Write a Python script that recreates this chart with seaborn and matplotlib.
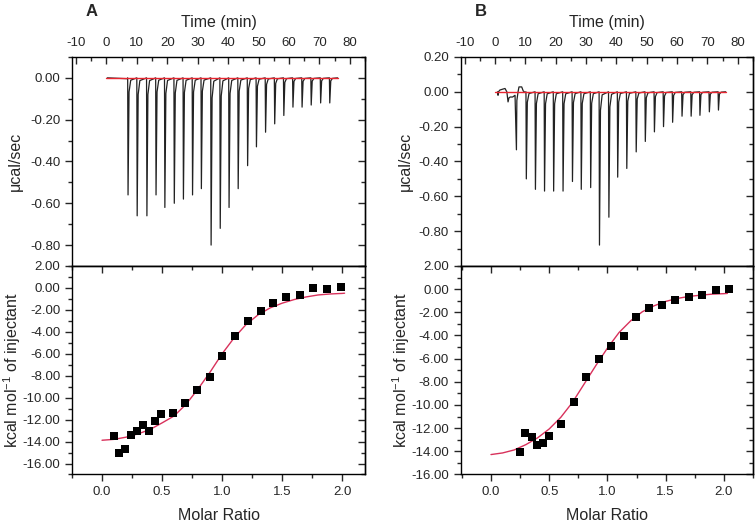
import matplotlib
matplotlib.use("Agg")
import matplotlib.pyplot as plt
from matplotlib.ticker import MultipleLocator, FormatStrFormatter, FixedLocator, NullFormatter
import seaborn as sns

# ============================
# data
# ============================
# raw thermogram: injection times (min) and peak minima (ucal/sec)
INJ_T_A = [7.0, 10.0, 13.2, 16.2, 19.1, 22.2, 25.2, 28.2, 31.1, 34.3, 37.3, 40.2,
           43.2, 46.3, 49.2, 52.2, 55.2, 58.2, 61.2, 64.2, 67.2, 70.3, 73.3]
PEAK_A = [-0.56, -0.66, -0.66, -0.56, -0.62, -0.60, -0.58, -0.56, -0.53, -0.80, -0.72, -0.62,
          -0.53, -0.42, -0.33, -0.26, -0.22, -0.18, -0.14, -0.14, -0.13, -0.12, -0.12]
PRE_T_A = [0.3, 6.9]
PRE_Y_A = [0.0, -0.004]

INJ_T_B = [10.2, 13.2, 16.2, 19.2, 22.3, 25.4, 28.3, 31.4, 34.3, 37.4, 40.3, 43.3,
           46.4, 49.4, 52.4, 55.4, 58.4, 61.5, 64.5, 67.4, 70.5, 73.5]
PEAK_B = [-0.50, -0.56, -0.57, -0.57, -0.57, -0.515, -0.56, -0.55, -0.88, -0.72, -0.49, -0.44,
          -0.345, -0.285, -0.23, -0.20, -0.175, -0.14, -0.14, -0.135, -0.115, -0.105]
# first minutes of run B (small injections and baseline drift)
PRE_T_B = [0.8, 1.0, 1.15, 1.6, 2.5, 3.3, 3.9, 4.3, 4.6, 5.0, 5.8, 6.6, 7.06, 7.2, 7.6, 7.9, 8.8, 9.3, 9.9]
PRE_Y_B = [0.0, -0.02, 0.0, 0.01, 0.015, 0.019, 0.0, -0.058, -0.035, -0.03, -0.03, -0.02,
           -0.333, -0.05, 0.0, 0.028, 0.028, 0.005, -0.004]
T_END = 76.0

# integrated heats
MR_A = [0.10, 0.144, 0.194, 0.244, 0.292, 0.342, 0.392, 0.439, 0.492, 0.589, 0.692, 0.794,
        0.897, 1.0, 1.106, 1.214, 1.322, 1.428, 1.536, 1.647, 1.758, 1.872, 1.99]
DH_A = [-13.48, -15.03, -14.64, -13.36, -13.0, -12.5, -13.06, -12.09, -11.5, -11.4, -10.5, -9.27,
        -8.12, -6.24, -4.42, -3.03, -2.06, -1.39, -0.85, -0.67, -0.03, -0.09, 0.09]
FIT_X_A = [0.0, 0.1, 0.2, 0.3, 0.4, 0.5, 0.6, 0.7, 0.8, 0.9, 1.0, 1.1, 1.2, 1.3, 1.4,
           1.5, 1.6, 1.7, 1.8, 1.9, 2.0, 2.02]
FIT_Y_A = [-13.88, -13.8, -13.6, -13.3, -12.9, -12.3, -11.67, -10.6, -9.2, -7.67, -6.0, -4.55,
           -3.33, -2.45, -1.82, -1.39, -1.06, -0.82, -0.64, -0.55, -0.50, -0.48]

MR_B = [0.247, 0.296, 0.348, 0.397, 0.449, 0.50, 0.604, 0.711, 0.817, 0.924, 1.03, 1.142,
        1.249, 1.361, 1.47, 1.583, 1.698, 1.81, 1.928, 2.043]
DH_B = [-14.08, -12.44, -12.79, -13.45, -13.3, -12.67, -11.67, -9.71, -7.61, -6.03, -4.94, -4.05,
        -2.38, -1.64, -1.35, -0.95, -0.66, -0.49, -0.06, 0.03]
FIT_X_B = [0.0, 0.1, 0.2, 0.3, 0.4, 0.5, 0.6, 0.7, 0.8, 0.9, 1.0, 1.1, 1.2, 1.3, 1.4,
           1.5, 1.6, 1.7, 1.8, 1.9, 2.0, 2.03]
FIT_Y_B = [-14.28, -14.14, -13.88, -13.42, -12.84, -12.07, -11.06, -9.77, -8.19, -6.6, -5.09, -3.74,
           -2.73, -1.95, -1.44, -1.06, -0.80, -0.63, -0.52, -0.43, -0.39, -0.37]

# ============================
# style
# ============================
sns.set_style("ticks")
plt.rcParams['font.family'] = ['Liberation Sans', 'DejaVu Sans']
plt.rcParams['mathtext.fontset'] = 'custom'
plt.rcParams['mathtext.rm'] = 'Liberation Sans'
plt.rcParams['mathtext.it'] = 'Liberation Sans:italic'
plt.rcParams['axes.unicode_minus'] = False
plt.rcParams['axes.linewidth'] = 1.0

TRACE_COLOR = "#222222"
BASE_COLOR = "#e8252f"
FIT_COLOR = "#d8315b"
TICK_FS = 9.5
LABEL_FS = 11.5


def build_trace(pre_t, pre_y, inj_t, peaks):
    ts, ys = list(pre_t), list(pre_y)
    for t, d in zip(inj_t, peaks):
        ts += [t, t + 0.12, t + 0.45, t + 1.0]
        ys += [0.0, d, 0.12 * d, 0.02 * d]
    ts.append(T_END)
    ys.append(0.0)
    return ts, ys


def set_len(ax, axis):
    ax.tick_params(axis=axis, which='major', length=5, width=1.0)
    ax.tick_params(axis=axis, which='minor', length=3, width=1.0)


def inward_mirror(ax, ymaj, ymin, xmaj=None, xmin=None):
    # Origin style: mirrored ticks on right (and top) point inward
    sec = ax.secondary_yaxis('right')
    sec.yaxis.set_major_locator(ymaj)
    sec.yaxis.set_minor_locator(ymin)
    sec.yaxis.set_major_formatter(NullFormatter())
    sec.tick_params(axis='y', which='both', direction='in')
    set_len(sec, 'y')
    if xmaj is not None:
        secx = ax.secondary_xaxis('top')
        secx.xaxis.set_major_locator(xmaj)
        secx.xaxis.set_minor_locator(xmin)
        secx.xaxis.set_major_formatter(NullFormatter())
        secx.tick_params(axis='x', which='both', direction='in')
        set_len(secx, 'x')


def draw_panel(fig, x0, w, pre_t, pre_y, inj_t, peaks, ylim_top, yticks_top,
               mr, dh, fit_x, fit_y, xlim_bot, ylim_bot, letter, ylab_x):
    ax_t = fig.add_axes([x0, 0.4924, w, 0.3989])
    ax_b = fig.add_axes([x0, 0.0945, w, 0.3979])

    # raw heat flow
    ts, ys = build_trace(pre_t, pre_y, inj_t, peaks)
    sns.lineplot(x=ts, y=ys, sort=False, estimator=None, color=TRACE_COLOR,
                 linewidth=0.9, ax=ax_t)
    sns.lineplot(x=[0.0, T_END], y=[0.0, 0.0], color=BASE_COLOR, linewidth=1.0, ax=ax_t)
    ax_t.set_xlim(-11.3, 85)
    ax_t.set_ylim(*ylim_top)
    ax_t.xaxis.set_major_locator(MultipleLocator(10))
    ax_t.xaxis.set_minor_locator(MultipleLocator(5))
    ax_t.yaxis.set_major_locator(FixedLocator(yticks_top))
    ax_t.yaxis.set_minor_locator(MultipleLocator(0.1))
    ax_t.yaxis.set_major_formatter(FormatStrFormatter('%.2f'))
    ax_t.xaxis.set_major_formatter(FormatStrFormatter('%d'))
    ax_t.tick_params(axis='x', which='both', top=True, bottom=False, labeltop=True,
                     labelbottom=False, direction='in', labelsize=TICK_FS, pad=6)
    ax_t.tick_params(axis='y', which='both', left=True, right=False, direction='out',
                     labelsize=TICK_FS)
    set_len(ax_t, 'x')
    set_len(ax_t, 'y')
    inward_mirror(ax_t, FixedLocator(yticks_top), MultipleLocator(0.1))
    ax_t.xaxis.set_label_position('top')
    ax_t.set_xlabel("Time (min)", fontsize=LABEL_FS, labelpad=7)
    ax_t.set_ylabel("μcal/sec", fontsize=LABEL_FS)
    ax_t.yaxis.set_label_coords(ylab_x, 0.5)

    # integrated heats
    sns.lineplot(x=fit_x, y=fit_y, sort=False, estimator=None, color=FIT_COLOR,
                 linewidth=1.0, ax=ax_b, zorder=2)
    sns.scatterplot(x=mr, y=dh, marker='s', s=34, color='black', edgecolor='black',
                    linewidth=0, ax=ax_b, zorder=3)
    ax_b.set_xlim(*xlim_bot)
    ax_b.set_ylim(*ylim_bot)
    ax_b.xaxis.set_major_locator(MultipleLocator(0.5))
    ax_b.xaxis.set_minor_locator(MultipleLocator(0.25))
    ax_b.yaxis.set_major_locator(MultipleLocator(2))
    ax_b.yaxis.set_minor_locator(MultipleLocator(1))
    ax_b.yaxis.set_major_formatter(FormatStrFormatter('%.2f'))
    ax_b.xaxis.set_major_formatter(FormatStrFormatter('%.1f'))
    ax_b.tick_params(axis='x', which='both', top=False, bottom=True, direction='out',
                     labelsize=TICK_FS)
    ax_b.tick_params(axis='y', which='both', left=True, right=False, direction='out',
                     labelsize=TICK_FS)
    set_len(ax_b, 'x')
    set_len(ax_b, 'y')
    inward_mirror(ax_b, MultipleLocator(2), MultipleLocator(1),
                  MultipleLocator(0.5), MultipleLocator(0.25))
    ax_b.set_xlabel("Molar Ratio", fontsize=LABEL_FS, labelpad=7)
    ax_b.set_ylabel("kcal mol$^{-1}$ of injectant", fontsize=LABEL_FS)
    ax_b.yaxis.set_label_coords(ylab_x, 0.5)

    for ax in (ax_t, ax_b):
        for s in ax.spines.values():
            s.set_visible(True)
            s.set_linewidth(1.0)
            s.set_color("black")

    fig.text(x0 + 14 / 756, 1 - 12 / 524, letter, fontsize=12, fontweight='bold',
             ha='left', va='center')
    return ax_t, ax_b


fig = plt.figure(figsize=(7.56, 5.24), dpi=100)

draw_panel(fig, 72 / 756, 293 / 756, PRE_T_A, PRE_Y_A, INJ_T_A, PEAK_A,
           (-0.9, 0.1), [0.0, -0.2, -0.4, -0.6, -0.8],
           MR_A, DH_A, FIT_X_A, FIT_Y_A, (-0.25, 2.19), (-17.0, 2.0), "A", -0.168)
draw_panel(fig, 460.7 / 756, 292.3 / 756, PRE_T_B, PRE_Y_B, INJ_T_B, PEAK_B,
           (-1.0, 0.2), [0.2, 0.0, -0.2, -0.4, -0.6, -0.8],
           MR_B, DH_B, FIT_X_B, FIT_Y_B, (-0.26, 2.25), (-16.0, 2.0), "B", -0.165)

fig.savefig("out.png", dpi=100)
plt.close(fig)
